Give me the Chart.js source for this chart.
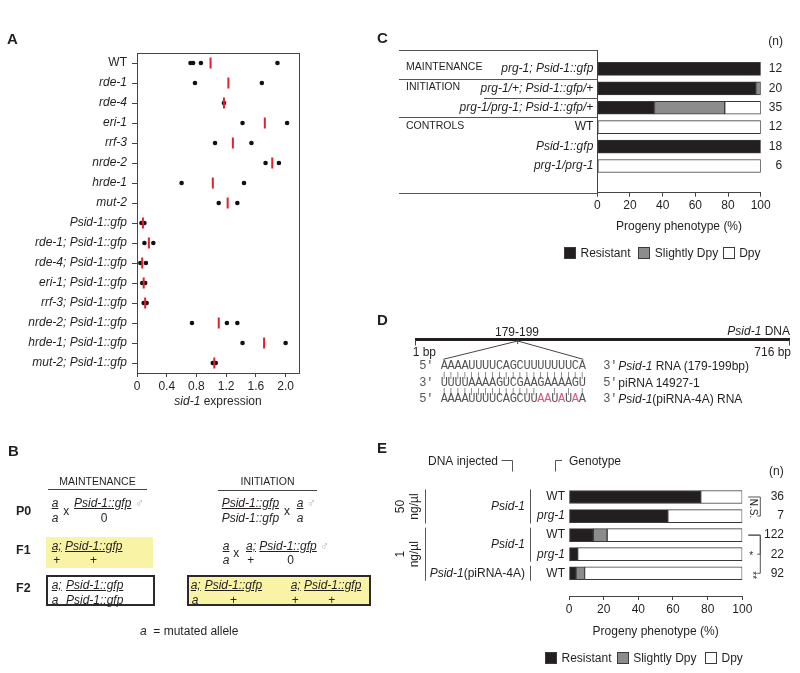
<!DOCTYPE html>
<html>
<head>
<meta charset="utf-8">
<script src="https://cdn.jsdelivr.net/npm/chart.js@4.4.0/dist/chart.umd.min.js"></script>
<style>
  body { margin: 0; background: #fff; }
  #fig { position: relative; width: 800px; height: 673px; overflow: hidden; font-family: "Liberation Sans", Arial, sans-serif; color: #231f20; }
  #fig canvas { position: absolute; }
  .t { position: absolute; font-size: 12px; line-height: 14px; white-space: pre; }
  .i { font-style: italic; }
  .u { text-decoration: underline; }
  .panel { font-weight: bold; font-size: 15px; }
  .b { font-weight: bold; font-size: 12.5px; }
  .caps { font-size: 10.5px; }
  .seq { font-family: "Liberation Mono", monospace; font-size: 12px; letter-spacing: -0.3px; color: #555; }
  .pairs { font-family: "Liberation Mono", monospace; font-size: 8px; letter-spacing: 2.1px; color: #555; }
  .pink { color: #e8508a; }
  .male { color: #aaa; font-style: normal; }
  .rect { position: absolute; box-sizing: border-box; }
</style>
</head>
<body>
<div id="fig">
  <canvas id="chartA" width="390" height="412" style="left:0;top:0"></canvas>
  <canvas id="chartC" width="410" height="204" style="left:390px;top:30px"></canvas>
  <canvas id="chartE" width="410" height="199" style="left:390px;top:440px"></canvas>
  <svg id="lines" width="800" height="673" style="position:absolute;left:0;top:0"></svg>
</div>
<script>
// ---------- Panel A: sid-1 expression ----------
const aStrains = ['WT', 'rde-1', 'rde-4', 'eri-1', 'rrf-3', 'nrde-2', 'hrde-1', 'mut-2',
  'Psid-1::gfp', 'rde-1; Psid-1::gfp', 'rde-4; Psid-1::gfp', 'eri-1; Psid-1::gfp',
  'rrf-3; Psid-1::gfp', 'nrde-2; Psid-1::gfp', 'hrde-1; Psid-1::gfp', 'mut-2; Psid-1::gfp'];
const aReplicates = [[0.72, 0.755, 0.86, 1.89], [0.78, 1.68], [1.17], [1.42, 2.02], [1.05, 1.54],
  [1.73, 1.91], [0.60, 1.44], [1.10, 1.35], [0.06, 0.10], [0.10, 0.22], [0.045, 0.12],
  [0.07, 0.11], [0.09, 0.13], [0.74, 1.21, 1.35], [1.42, 2.00], [1.02, 1.06]];
const aMeans = [0.99, 1.23, 1.17, 1.72, 1.29, 1.82, 1.02, 1.22, 0.08, 0.16, 0.07, 0.09, 0.11, 1.10, 1.71, 1.04];
const aTicks = [0, 0.4, 0.8, 1.2, 1.6, 2.0];

// ---------- Panel C: progeny phenotype ----------
const cGenotypes = ['prg-1; Psid-1::gfp', 'prg-1/+; Psid-1::gfp/+', 'prg-1/prg-1; Psid-1::gfp/+', 'WT', 'Psid-1::gfp', 'prg-1/prg-1'];
const cResistant = [100, 97, 35, 0, 100, 0];
const cSlightlyDpy = [0, 3, 43, 0, 0, 0];
const cDpy = [0, 0, 22, 100, 0, 100];
const cCounts = [12, 20, 35, 12, 18, 6];
const cGroupTitles = ['MAINTENANCE', 'INITIATION', 'CONTROLS'];
const cGroupStartRows = [0, 1, 3];

// ---------- Panel E: injected DNA ----------
const eGenotypes = ['WT', 'prg-1', 'WT', 'prg-1', 'WT'];
const eResistant = [76, 57, 14, 5, 4];
const eSlightlyDpy = [0, 0, 8, 0, 5];
const eDpy = [24, 43, 78, 95, 91];
const eCounts = [36, 7, 122, 22, 92];
const eConcentrations = ['50', '1'];
const eConcentrationRows = [[0, 1], [2, 4]];
const eDnaInjected = ['Psid-1', 'Psid-1', 'Psid-1(piRNA-4A)'];
const eDnaRows = [[0, 1], [2, 3], [4, 4]];
const eComparisons = [[0, 1, 'N.S.'], [2, 3, '*'], [2, 4, '**']];

const pctTicks = [0, 20, 40, 60, 80, 100];
const phenotypes = ['Resistant', 'Slightly Dpy', 'Dpy'];
const phenoColors = ['#231f20', '#8c8c8c', '#ffffff'];

// ---------- Panel D: sequences ----------
const dTargetRna = 'AAAAUUUUCAGCUUUUUUUCA';
const dPiRna = 'UUUUAAAAGUCGAAGAAAAGU';
const dMutantRna = 'AAAAUUUUCAGCUUAAUAUAA';
const dMutated = [14, 15, 17, 19];

const FONT = '"Liberation Sans", Arial, sans-serif';
const INK = '#231f20';
Chart.defaults.font.family = FONT;
Chart.defaults.font.size = 12;
Chart.defaults.color = INK;

const fig = document.getElementById('fig');
const svg = document.getElementById('lines');

function txt(x, cy, html, cls = '', align = 'left') {
  const el = document.createElement('div');
  el.className = 't ' + cls;
  el.innerHTML = html;
  el.style.left = x + 'px';
  el.style.top = (cy - 7) + 'px';
  if (align === 'center') el.style.transform = 'translateX(-50%)';
  if (align === 'right') el.style.transform = 'translateX(-100%)';
  fig.appendChild(el);
  return el;
}
function rect(x, y, w, h, fill, border) {
  const el = document.createElement('div');
  el.className = 'rect';
  Object.assign(el.style, { left: x + 'px', top: y + 'px', width: w + 'px', height: h + 'px', background: fill });
  if (border) el.style.border = border;
  fig.insertBefore(el, svg);
}
function svgLine(x1, y1, x2, y2, w = 1, color = '#444') {
  const l = document.createElementNS('http://www.w3.org/2000/svg', 'line');
  l.setAttribute('x1', x1); l.setAttribute('y1', y1);
  l.setAttribute('x2', x2); l.setAttribute('y2', y2);
  l.setAttribute('stroke', color); l.setAttribute('stroke-width', w);
  svg.appendChild(l);
}
function legend(x0, cy, gaps) {
  let x = x0;
  phenotypes.forEach((p, k) => {
    rect(x, cy - 6, 12, 12, phenoColors[k], '1px solid #3a3a3a');
    txt(x + 16.5, cy, p);
    x += gaps[k];
  });
}
// draw text made of plain / italic parts on a canvas
function richText(ctx, parts, x, y, align) {
  const fonts = parts.map(p => (p[1] ? 'italic ' : '') + '12px ' + FONT);
  const widths = parts.map((p, k) => { ctx.font = fonts[k]; return ctx.measureText(p[0]).width; });
  const total = widths.reduce((s, w) => s + w, 0);
  let cx = align === 'right' ? x - total : align === 'center' ? x - total / 2 : x;
  ctx.textAlign = 'left';
  parts.forEach((p, k) => { ctx.font = fonts[k]; ctx.fillText(p[0], cx, y); cx += widths[k]; });
}
const splitItalic = s => s.indexOf('(') > 0 ? [[s.slice(0, s.indexOf('(')), true], [s.slice(s.indexOf('(')), false]] : [[s, true]];

const axisGrid = { display: true, drawOnChartArea: false, drawTicks: true, tickLength: 4, color: '#444' };
const axisBorder = { display: true, color: '#444', width: 1 };

// ---------- Chart A ----------
const frame = {
  id: 'frame',
  afterDraw(chart) {
    const { ctx, chartArea: a } = chart;
    ctx.save();
    ctx.strokeStyle = '#444'; ctx.lineWidth = 1;
    ctx.strokeRect(Math.round(a.left) + 0.5, Math.round(a.top) + 0.5, Math.round(a.right - a.left), Math.round(a.bottom - a.top));
    ctx.restore();
  }
};
const aPoints = [];
aReplicates.forEach((vals, i) => vals.forEach(v => aPoints.push({ x: v, y: aStrains[i] })));

new Chart(document.getElementById('chartA'), {
  type: 'scatter',
  data: {
    datasets: [
      { data: aMeans.map((v, i) => ({ x: v, y: aStrains[i] })), pointStyle: 'line', rotation: 90,
        radius: 5.5, borderWidth: 2, borderColor: '#e3202a', backgroundColor: '#e3202a' },
      { data: aPoints, pointStyle: 'circle', radius: 2.3, borderWidth: 0, backgroundColor: '#111' }
    ]
  },
  options: {
    responsive: false, animation: false, devicePixelRatio: 1,
    layout: { padding: { top: 53, right: 91, left: 0, bottom: 0 } },
    plugins: { legend: { display: false }, tooltip: { enabled: false } },
    scales: {
      x: {
        type: 'linear', min: 0, max: 2.18,
        afterBuildTicks: s => { s.ticks = aTicks.map(v => ({ value: v })); },
        afterFit: s => { s.height = 39; },
        ticks: { padding: 2, font: { size: 12 }, callback: v => v === 0 ? '0' : v.toFixed(1) },
        grid: axisGrid, border: axisBorder
      },
      y: {
        type: 'category', labels: aStrains, offset: true,
        afterFit: s => { s.width = 137; },
        ticks: { padding: 5, font: ctx => ({ size: 12, style: aStrains[ctx.index] === 'WT' ? 'normal' : 'italic' }) },
        grid: { ...axisGrid, tickLength: 5 }, border: axisBorder
      }
    }
  },
  plugins: [frame]
});

// ---------- stacked phenotype bars (C and E) ----------
function phenoDatasets(series) {
  return series.map((vals, k) => ({
    label: phenotypes[k],
    data: vals.map((v, i) => ({ x: v === 0 ? null : v, y: i })),
    backgroundColor: phenoColors[k], borderColor: '#3a3a3a', borderWidth: 1, borderSkipped: false,
    barThickness: 13
  }));
}
function phenoOptions(labels, yMin, yMax, padding, yWidth, xHeight, showYBorder) {
  return {
    responsive: false, animation: false, devicePixelRatio: 1, indexAxis: 'y',
    layout: { padding },
    plugins: { legend: { display: false }, tooltip: { enabled: false } },
    scales: {
      x: {
        type: 'linear', min: 0, max: 100, stacked: true,
        afterBuildTicks: s => { s.ticks = pctTicks.map(v => ({ value: v })); },
        afterFit: s => { s.height = xHeight; },
        ticks: { padding: 2, font: { size: 12 } },
        grid: axisGrid, border: axisBorder,
        title: { display: true, text: 'Progeny phenotype (%)', font: { size: 12 }, padding: { top: 0, bottom: 0 } }
      },
      y: {
        type: 'linear', reverse: true, min: yMin, max: yMax, stacked: true,
        afterBuildTicks: s => { s.ticks = labels.map((_, i) => ({ value: i })); },
        afterFit: s => { s.width = yWidth; },
        ticks: {
          padding: 4, autoSkip: false,
          callback: v => labels[v],
          font: ctx => ({ size: 12, style: labels[ctx.tick ? ctx.tick.value : ctx.index] === 'WT' ? 'normal' : 'italic' })
        },
        grid: { display: false, drawTicks: false },
        border: { display: showYBorder, color: '#444', width: 1 }
      }
    }
  };
}

const cTable = {
  id: 'cTable',
  afterDraw(chart) {
    const { ctx, chartArea: a, scales: { y } } = chart;
    const hline = (x0, yy) => {
      ctx.beginPath(); ctx.moveTo(x0, Math.round(yy) + 0.5); ctx.lineTo(a.left, Math.round(yy) + 0.5); ctx.stroke();
    };
    ctx.save();
    ctx.strokeStyle = '#555'; ctx.lineWidth = 1.2;
    hline(9, a.top);
    hline(9, y.getPixelForValue(0.5));
    hline(94, y.getPixelForValue(1.5));
    hline(9, y.getPixelForValue(2.5));
    hline(9, a.bottom);
    ctx.fillStyle = INK; ctx.textBaseline = 'middle';
    ctx.font = '10.5px ' + FONT; ctx.textAlign = 'left';
    cGroupTitles.forEach((g, k) => ctx.fillText(g, 16, y.getPixelForValue(cGroupStartRows[k]) - 1.5));
    ctx.font = '12px ' + FONT; ctx.textAlign = 'right';
    cCounts.forEach((n, i) => ctx.fillText(String(n), a.right + 21.5, y.getPixelForValue(i)));
    ctx.textAlign = 'center';
    ctx.fillText('(n)', a.right + 15, a.top - 8.3);
    ctx.restore();
  }
};

new Chart(document.getElementById('chartC'), {
  type: 'bar',
  data: { datasets: phenoDatasets([cResistant, cSlightlyDpy, cDpy]) },
  options: phenoOptions(cGenotypes, -0.36, 5.76, { top: 20, right: 39.3, left: 0, bottom: 0 }, 207.3, 41.3, true),
  plugins: [cTable]
});

const eDecor = {
  id: 'eDecor',
  afterDraw(chart) {
    const { ctx, chartArea: a, scales: { y } } = chart;
    const py = i => y.getPixelForValue(i);
    const line = pts => {
      ctx.beginPath();
      pts.forEach(([x, yy], k) => k ? ctx.lineTo(x, yy) : ctx.moveTo(x, yy));
      ctx.stroke();
    };
    ctx.save();
    ctx.strokeStyle = '#555'; ctx.lineWidth = 1; ctx.fillStyle = INK; ctx.textBaseline = 'middle';
    // column headers
    ctx.font = '12px ' + FONT; ctx.textAlign = 'left';
    ctx.fillText('DNA injected', 38, 22);
    line([[111.5, 20.5], [122.5, 20.5], [122.5, 31.5]]);
    line([[165.5, 31.5], [165.5, 20.5], [172, 20.5]]);
    ctx.fillText('Genotype', 179, 22);
    // concentration groups
    eConcentrations.forEach((c, k) => {
      const [r0, r1] = eConcentrationRows[k];
      const top = py(r0) - 7.5, bot = py(r1) + 7.5, mid = (top + bot) / 2;
      line([[35.5, top], [35.5, bot]]);
      ctx.save(); ctx.translate(11, mid); ctx.rotate(-Math.PI / 2);
      ctx.textAlign = 'center'; ctx.font = '12px ' + FONT;
      ctx.fillText(c, 0, 0); ctx.fillText('ng/µl', 0, 14);
      ctx.restore();
    });
    // injected DNA groups
    eDnaInjected.forEach((d, k) => {
      const [r0, r1] = eDnaRows[k];
      const top = py(r0) - 7.5, bot = py(r1) + 7.5;
      line([[140.5, top], [140.5, bot]]);
      richText(ctx, splitItalic(d), 135, (py(r0) + py(r1)) / 2, 'right');
    });
    // n
    ctx.font = '12px ' + FONT; ctx.textAlign = 'right';
    eCounts.forEach((n, i) => ctx.fillText(String(n), a.right + 41.7, py(i)));
    ctx.textAlign = 'center';
    ctx.fillText('(n)', a.right + 34, 31.7);
    // comparisons
    const bx1 = a.right + 6, bx2 = a.right + 18;
    eComparisons.forEach(([r0, r1, lab]) => {
      line([[bx1, py(r0)], [bx2, py(r0)], [bx2, py(r1)], [bx2 - 3, py(r1)]]);
      ctx.save();
      ctx.font = '10px ' + FONT; ctx.textAlign = 'center';
      if (lab.length > 2) {
        ctx.translate(a.right + 10, (py(r0) + py(r1)) / 2 + 2); ctx.rotate(Math.PI / 2);
      } else {
        ctx.translate(a.right + 9, py(r1) + 2); ctx.rotate(lab.length > 1 ? Math.PI / 2 : 0);
      }
      ctx.fillText(lab, 0, 0);
      ctx.restore();
    });
    ctx.restore();
  }
};

new Chart(document.getElementById('chartE'), {
  type: 'bar',
  data: { datasets: phenoDatasets([eResistant, eSlightlyDpy, eDpy]) },
  options: phenoOptions(eGenotypes, -0.5, 4.56, { top: 35.4, right: 57.7, left: 0, bottom: 0 }, 179, 43, false),
  plugins: [eDecor]
});

// ---------- panel letters, legends, axis title ----------
txt(7, 39, 'A', 'panel');
txt(8, 451, 'B', 'panel');
txt(377, 38.3, 'C', 'panel');
txt(377, 320, 'D', 'panel');
txt(377, 448, 'E', 'panel');
txt(218, 401, '<i>sid-1</i> expression', '', 'center');
legend(564, 252.7, [74.3, 84.4]);
legend(545, 657.7, [71.7, 88.3]);

// ---------- Panel B: crossing scheme ----------
const YEL = '#f9f3a6';
rect(46, 537.3, 107.3, 30.4, YEL);
rect(46, 575, 109, 30.7, '#fff', '2px solid #2a2a2a');
rect(186.7, 575, 184.3, 30.7, YEL, '2px solid #2a2a2a');
txt(97.5, 481, 'MAINTENANCE', 'caps', 'center'); svgLine(48, 489.5, 147, 489.5);
txt(267.5, 481, 'INITIATION', 'caps', 'center'); svgLine(218, 490.5, 317, 490.5);
txt(16, 510.5, 'P0', 'b'); txt(16, 550, 'F1', 'b'); txt(16, 588, 'F2', 'b');
const U = s => '<span class="u">' + s + '</span>';
const MALE = '<span class="male">♂</span>';
// P0
txt(51.7, 503, U('a'), 'i'); txt(51.7, 517.5, 'a', 'i'); txt(63.3, 510.7, 'x');
txt(74, 503, U('Psid-1::gfp') + ' ' + MALE, 'i'); txt(100.7, 517.5, '0');
txt(221.7, 503, U('Psid-1::gfp'), 'i'); txt(221.7, 517.5, 'Psid-1::gfp', 'i'); txt(284, 510.7, 'x');
txt(296.7, 503, U('a') + ' ' + MALE, 'i'); txt(296.7, 517.5, 'a', 'i');
// F1
txt(51.7, 546, U('a;') + ' ' + U('Psid-1::gfp'), 'i'); txt(53.3, 560, '+'); txt(90, 560, '+');
txt(222.7, 546, U('a'), 'i'); txt(222.7, 560, 'a', 'i'); txt(233.3, 553, 'x');
txt(246, 546, U('a;') + ' ' + U('Psid-1::gfp') + ' ' + MALE, 'i'); txt(247.3, 560, '+'); txt(287.3, 560, '0');
// F2
txt(51.7, 585, U('a;'), 'i'); txt(66, 585, U('Psid-1::gfp'), 'i');
txt(51.7, 599.5, 'a', 'i'); txt(66, 599.5, 'Psid-1::gfp', 'i');
txt(190.7, 585, U('a;'), 'i'); txt(204.7, 585, U('Psid-1::gfp'), 'i');
txt(290.7, 585, U('a;'), 'i'); txt(304, 585, U('Psid-1::gfp'), 'i');
txt(191.7, 599.5, 'a', 'i'); txt(230, 599.5, '+'); txt(291.7, 599.5, '+'); txt(328.3, 599.5, '+');
txt(140, 630.7, '<i>a</i>  = mutated allele');

// ---------- Panel D: target site ----------
txt(517, 331.7, '179-199', '', 'center');
txt(790, 330.7, '<i>Psid-1</i> DNA', '', 'right');
rect(415, 337.7, 375, 3, INK);
svgLine(415.5, 340, 415.5, 345.5); svgLine(789.5, 340, 789.5, 345.5);
svgLine(517.7, 340.5, 517.7, 344);
svgLine(517.7, 341, 443.3, 359.3); svgLine(517.7, 341, 583.3, 359.3);
txt(412.7, 351.7, '1 bp'); txt(791, 351.7, '716 bp', '', 'right');
const PAIRS = ['AU', 'UA', 'GC', 'CG', 'GU', 'UG'];
const pairMarks = (s1, s2) => [...s1].map((c, k) => PAIRS.includes(c + s2[k]) ? '|' : ' ').join('');
const seqX = 440.7;
txt(419.3, 365.7, "5′", 'seq'); txt(seqX, 365.7, dTargetRna, 'seq'); txt(603.3, 365.7, "3′", 'seq');
txt(618.3, 365.7, '<i>Psid-1</i> RNA (179-199bp)');
txt(seqX + 1, 374.5, pairMarks(dTargetRna, dPiRna), 'pairs');
txt(419.3, 382.7, "3′", 'seq'); txt(seqX, 382.7, dPiRna, 'seq'); txt(603.3, 382.7, "5′", 'seq');
txt(618.3, 382.7, 'piRNA 14927-1');
txt(seqX + 1, 391.2, pairMarks(dMutantRna, dPiRna), 'pairs');
txt(419.3, 399, "5′", 'seq');
txt(seqX, 399, [...dMutantRna].map((c, k) => dMutated.includes(k) ? '<span class="pink">' + c + '</span>' : c).join(''), 'seq');
txt(603.3, 399, "3′", 'seq');
txt(618.3, 399, '<i>Psid-1</i>(piRNA-4A) RNA');
</script>
</body>
</html>
